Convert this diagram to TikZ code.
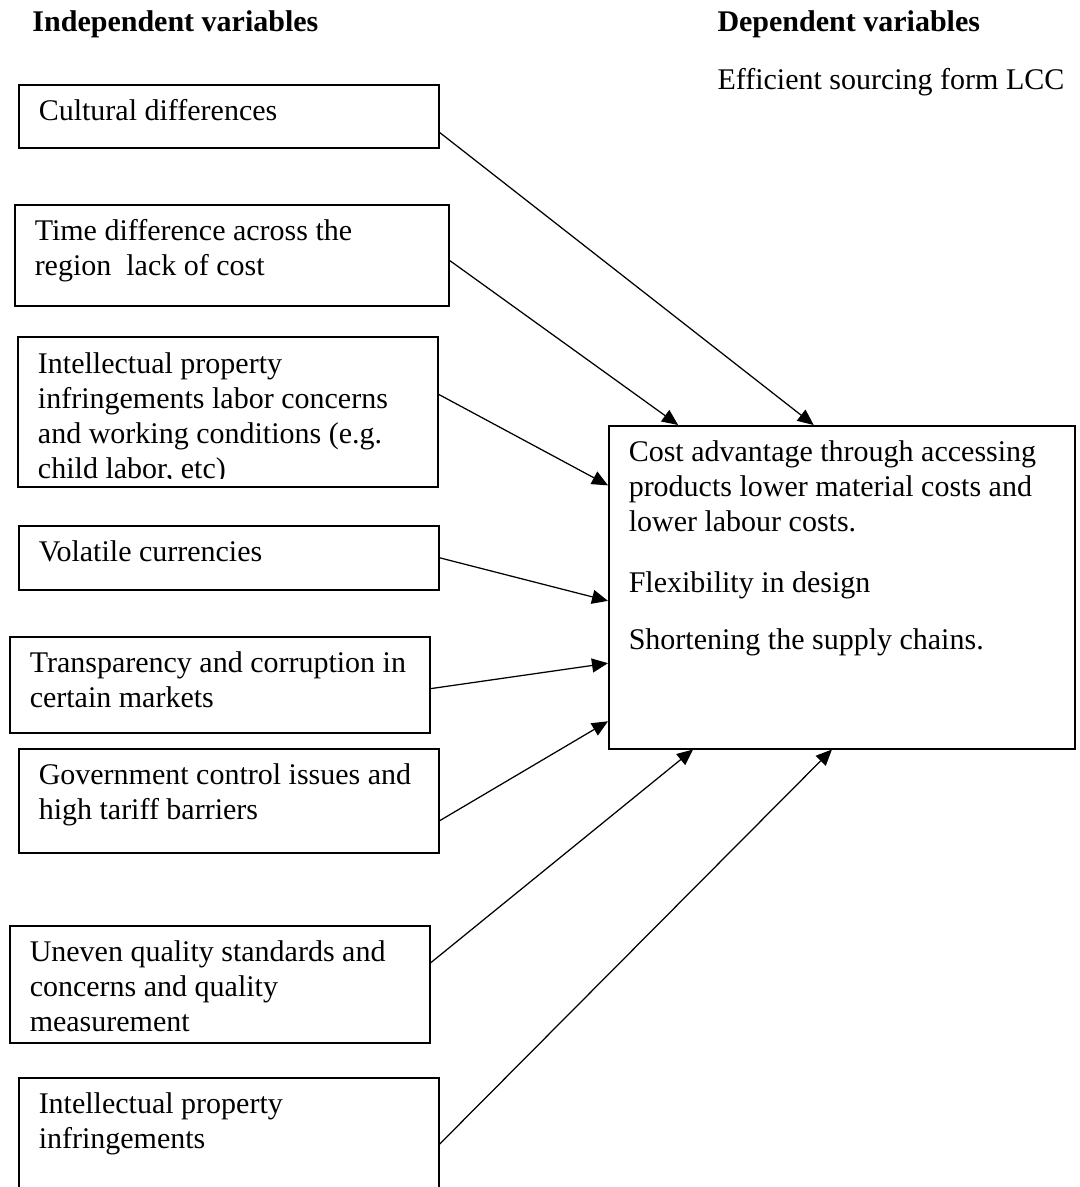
\documentclass[tikz,border=0pt]{standalone}
\usepackage{fontspec}
\setmainfont{Liberation Serif}
\usepackage{tikz}
\usetikzlibrary{arrows.meta, calc}
\newcommand{\bodyfont}{\fontsize{12pt}{14pt}\selectfont}
\tikzset{
  factor/.style={rectangle, draw=black, anchor=north west,
    text width=152pt, align=flush left, inner xsep=8pt, inner ysep=0pt,
    text height=14.4pt, font=\bodyfont, line width=0.6pt},
  outcome/.style={rectangle, draw=black, anchor=north west,
    text width=170.4pt, align=flush left, inner xsep=8pt, inner ysep=0pt,
    text height=14.4pt, text depth=114.8pt, font=\bodyfont, line width=0.6pt},
  heading/.style={anchor=base west, inner sep=0pt, font=\bodyfont\bfseries},
  subhead/.style={anchor=base west, inner sep=0pt, font=\bodyfont},
  arrow/.style={-{Triangle[length=6.4pt, width=5.6pt]}, line width=0.5pt, color=black}
}
\begin{document}
\begin{tikzpicture}[x=0.4pt, y=-0.4pt]
  \useasboundingbox (0,0) rectangle (1080,1187);

  % Headings
  \node[heading] (indep) at (32,31) {Independent variables};
  \node[heading] (dep) at (717,31) {Dependent variables};
  \node[subhead] (lcc) at (717,89) {Efficient sourcing form LCC};

  % Independent variables
  \node[factor, text depth=10.8pt] (cult) at (18,84) {Cultural differences};
  \node[factor, text width=157.6pt, text depth=26pt] (time) at (14,204) {Time difference across the\\ region~ lack of cost};
  \begin{scope}
    \clip (10,330) rectangle (446,478);
    \node[factor, draw=none, outer sep=0pt, text depth=45.6pt] (ipl) at (18,337) {Intellectual property\\ infringements labor concerns\\ and working conditions (e.g.\\ child labor, etc)};
  \end{scope}
  \draw[line width=0.6pt] (ipl.north west) rectangle (ipl.south east);
  \node[factor, text depth=11.2pt] (vol) at (18,525) {Volatile currencies};
  \node[factor, text depth=24pt] (trans) at (9,636) {Transparency and corruption in\\ certain markets};
  \node[factor, text depth=27.2pt] (gov) at (18,748) {Government control issues and\\ high tariff barriers};
  \node[factor, text depth=32.4pt] (qual) at (9,925) {Uneven quality standards and\\ concerns and quality\\ measurement};
  \node[factor, text depth=34.8pt] (ipb) at (18,1077) {Intellectual property\\ infringements};

  % Dependent variable
  \node[outcome] (cost) at (608,425) {Cost advantage through accessing\\ products lower material costs and\\ lower labour costs.\\[10.4pt] Flexibility in design\\[8.8pt] Shortening the supply chains.};

  % Arrows into the dependent variable
  \draw[arrow] ($(cult.north east)!0.75!(cult.south east)$) -- ($(cost.north west)!0.44!(cost.north east)$);
  \draw[arrow] ($(time.north east)!0.55!(time.south east)$) -- ($(cost.north west)!0.15!(cost.north east)$);
  \draw[arrow] ($(ipl.north east)!0.38!(ipl.south east)$) -- ($(cost.north west)!0.186!(cost.south west)$);
  \draw[arrow] (vol.east) -- ($(cost.north west)!0.542!(cost.south west)$);
  \draw[arrow] ($(trans.north east)!0.54!(trans.south east)$) -- ($(cost.north west)!0.734!(cost.south west)$);
  \draw[arrow] ($(gov.north east)!0.69!(gov.south east)$) -- ($(cost.north west)!0.913!(cost.south west)$);
  \draw[arrow] ($(qual.north east)!0.32!(qual.south east)$) -- ($(cost.south west)!0.182!(cost.south east)$);
  \draw[arrow] ($(ipb.north east)!0.54!(ipb.south east)$) -- ($(cost.south west)!0.479!(cost.south east)$);

\end{tikzpicture}
\end{document}
